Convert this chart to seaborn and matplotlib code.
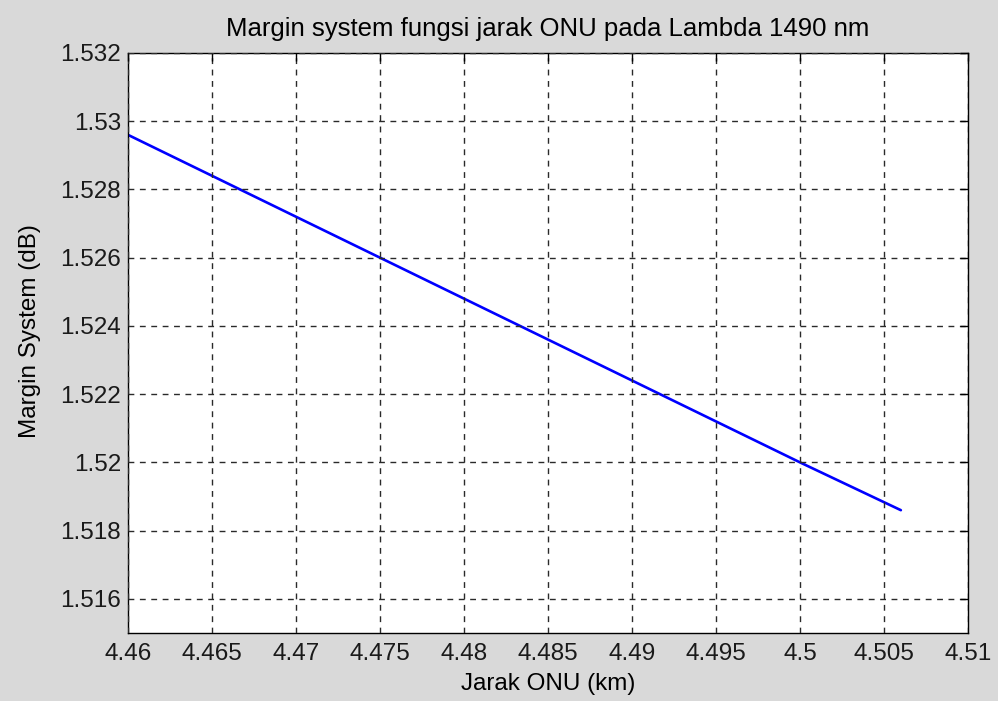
import matplotlib
matplotlib.use("Agg")
import matplotlib.pyplot as plt
import seaborn as sns
import pandas as pd

# Margin system vs ONU distance at 1490 nm
jarak_km = [4.460, 4.465, 4.470, 4.475, 4.480, 4.485, 4.490, 4.495, 4.500, 4.506]
margin_db = [1.5296, 1.5284, 1.5272, 1.5260, 1.5248, 1.5236, 1.5224, 1.5212, 1.5200, 1.5186]

x_ticks = [4.46, 4.465, 4.47, 4.475, 4.48, 4.485, 4.49, 4.495, 4.5, 4.505, 4.51]
x_tick_labels = ["4.46", "4.465", "4.47", "4.475", "4.48", "4.485", "4.49", "4.495", "4.5", "4.505", "4.51"]
y_ticks = [1.516, 1.518, 1.52, 1.522, 1.524, 1.526, 1.528, 1.53, 1.532]
y_tick_labels = ["1.516", "1.518", "1.52", "1.522", "1.524", "1.526", "1.528", "1.53", "1.532"]

title_text = "Margin system fungsi jarak ONU pada Lambda 1490 nm"
x_label = "Jarak ONU (km)"
y_label = "Margin System (dB)"

sns.set_style("white")
plt.rcParams["font.family"] = ["Liberation Sans", "DejaVu Sans"]

df = pd.DataFrame({"jarak": jarak_km, "margin": margin_db})

fig = plt.figure(figsize=(9.98, 7.01), dpi=100, facecolor="#d9d9d9")
ax = fig.add_axes([0.1283, 0.097, 0.8417, 0.8274])
ax.set_facecolor("white")

sns.lineplot(data=df, x="jarak", y="margin", ax=ax, color=(0, 0, 1), linewidth=1.9)

ax.set_xlim(4.46, 4.51)
ax.set_ylim(1.515, 1.532)
ax.set_xticks(x_ticks)
ax.set_xticklabels(x_tick_labels)
ax.set_yticks(y_ticks)
ax.set_yticklabels(y_tick_labels)

ax.grid(True, color="#2a2a2a", linestyle=(0, (4.2, 4.0)), linewidth=1.0)
ax.set_axisbelow(False)
for s in ax.spines.values():
    s.set_visible(True)
    s.set_color("black")
    s.set_linewidth(1.0)

ax.tick_params(direction="in", length=6, width=1, colors="black",
               top=True, right=True, labelsize=17.5)
ax.tick_params(axis="x", pad=7)
ax.tick_params(axis="y", pad=5)
for lab in ax.get_xticklabels() + ax.get_yticklabels():
    lab.set_color("#1a1a1a")

ax.set_title(title_text, fontsize=18.5, color="black", pad=12)
ax.set_xlabel(x_label, fontsize=17.5, color="black", labelpad=6)
ax.set_ylabel(y_label, fontsize=17.5, color="black", labelpad=14)
ax.yaxis.label.set_y(0.52)

fig.savefig("out.png", dpi=100, facecolor=fig.get_facecolor())
